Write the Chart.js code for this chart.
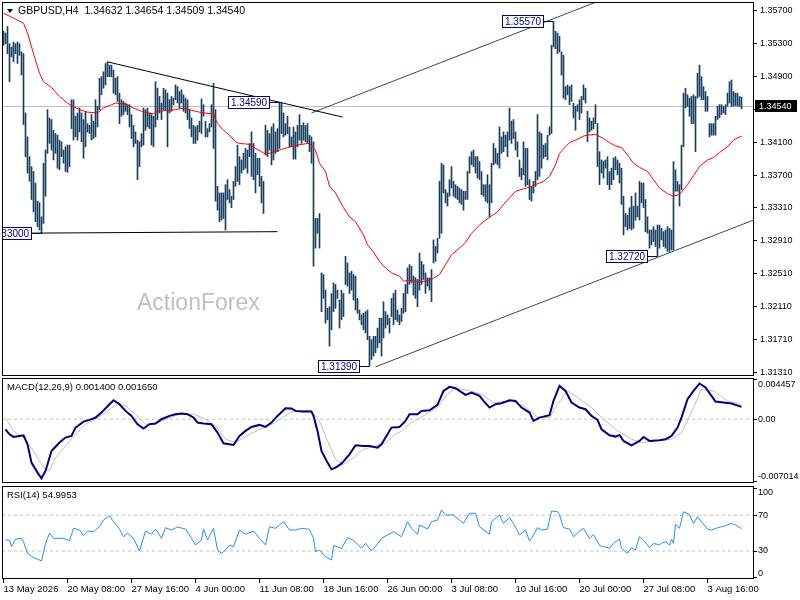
<!DOCTYPE html>
<html>
<head>
<meta charset="utf-8">
<script src="https://cdn.jsdelivr.net/npm/chart.js@4.4.1/dist/chart.umd.min.js"></script>
<style>
  html, body { margin: 0; padding: 0; background: #fff; }
  #wrap { position: relative; width: 800px; height: 600px; overflow: hidden; }
  canvas { position: absolute; left: 0; }
</style>
</head>
<body>
<div id="wrap">
  <canvas id="mainChart" width="800" height="380" style="top:0px"></canvas>
  <canvas id="macdChart" width="800" height="118" style="top:372px"></canvas>
  <canvas id="rsiChart" width="800" height="120" style="top:480px"></canvas>
</div>
<script>
// GBPUSD H4 bars, oldest first (high / low per bar)
const highs = [
  1.3545,1.3543,1.3551,1.3530,1.3526,1.3532,1.3530,1.3532,1.3530,1.3520,
  1.3518,1.3446,1.3417,1.3393,1.3381,1.3375,1.3361,1.3339,1.3337,1.3320,
  1.3385,1.3401,1.3450,1.3440,1.3438,1.3425,1.3421,1.3419,1.3413,1.3411,
  1.3401,1.3405,1.3407,1.3407,1.3462,1.3462,1.3442,1.3446,1.3452,1.3446,
  1.3438,1.3448,1.3433,1.3431,1.3444,1.3436,1.3462,1.3454,1.3488,1.3490,
  1.3496,1.3506,1.3508,1.3504,1.3504,1.3498,1.3488,1.3490,1.3470,1.3462,
  1.3460,1.3458,
  1.3456,1.3456,1.3444,1.3431,1.3423,1.3413,1.3411,1.3421,1.3452,1.3450,
  1.3452,1.3446,1.3444,1.3442,1.3484,1.3476,1.3466,1.3458,1.3476,1.3474,
  1.3470,1.3462,1.3466,1.3464,1.3480,1.3478,1.3472,1.3474,1.3468,1.3464,
  1.3462,1.3450,1.3440,1.3431,1.3429,1.3431,1.3436,1.3463,1.3456,1.3436,
  1.3427,1.3433,1.3456,1.3482,1.3450,1.3357,1.3349,1.3349,1.3349,1.3359,
  1.3365,1.3353,1.3345,1.3363,1.3381,1.3407,1.3393,1.3389,1.3397,1.3403,
  1.3401,1.3409,
  1.3423,1.3409,1.3397,1.3391,1.3391,1.3369,1.3363,1.3431,1.3425,1.3421,
  1.3429,1.3433,1.3423,1.3427,1.3459,1.3458,1.3446,1.3433,1.3442,1.3429,
  1.3417,1.3429,1.3423,1.3431,1.3444,1.3431,1.3434,1.3431,1.3433,1.3419,
  1.3417,1.3411,1.3318,1.3318,1.3324,1.3252,1.3250,1.3231,1.3209,1.3211,
  1.3227,1.3240,1.3238,1.3231,1.3219,1.3231,1.3227,1.3272,1.3264,1.3252,
  1.3254,1.3250,1.3248,1.3221,1.3207,1.3201,1.3203,1.3205,1.3207,1.3175,
  1.3171,1.3175,
  1.3175,1.3185,1.3197,1.3197,1.3217,1.3205,1.3201,1.3197,1.3221,1.3227,
  1.3231,1.3207,1.3201,1.3209,1.3227,1.3238,1.3258,1.3262,1.3260,1.3248,
  1.3246,1.3244,1.3276,1.3266,1.3262,1.3252,1.3246,1.3246,1.3256,1.3292,
  1.3284,1.3294,1.3363,1.3385,1.3383,1.3353,1.3349,1.3365,1.3381,1.3363,
  1.3359,1.3357,1.3355,1.3353,1.3351,1.3351,1.3375,1.3393,1.3399,1.3401,
  1.3393,1.3393,1.3387,1.3375,1.3359,1.3359,1.3371,1.3359,1.3385,1.3409,
  1.3403,1.3397,
  1.3429,1.3417,1.3423,1.3419,1.3423,1.3452,1.3436,1.3438,1.3423,1.3411,
  1.3389,1.3379,1.3411,1.3403,1.3403,1.3365,1.3357,1.3363,1.3375,1.3444,
  1.3423,1.3421,1.3407,1.3409,1.3419,1.3429,1.3528,1.3557,1.3545,1.3543,
  1.3539,1.3520,1.3516,1.3478,1.3480,1.3478,1.3480,1.3458,1.3454,1.3456,
  1.3462,1.3466,1.3480,1.3476,1.3448,1.3440,1.3436,1.3440,1.3456,1.3433,
  1.3399,1.3389,1.3387,1.3389,1.3393,1.3375,1.3379,1.3391,1.3393,1.3389,
  1.3385,1.3379,
  1.3345,1.3324,1.3322,1.3331,1.3345,1.3333,1.3349,1.3333,1.3363,1.3361,
  1.3361,1.3341,1.3320,1.3304,1.3304,1.3308,1.3304,1.3310,1.3310,1.3306,
  1.3302,1.3304,1.3308,1.3306,1.3304,1.3387,1.3377,1.3363,1.3359,1.3407,
  1.3470,1.3476,1.3468,1.3464,1.3466,1.3468,1.3466,1.3494,1.3504,1.3490,
  1.3478,1.3472,1.3466,1.3433,1.3433,1.3433,1.3442,1.3454,1.3456,1.3456,
  1.3454,1.3456,1.3470,1.3484,1.3486,1.3472,1.3470,1.3470,1.3466,1.3465
];
const lows = [
  1.3528,1.3530,1.3518,1.3484,1.3514,1.3508,1.3518,1.3506,1.3516,1.3492,
  1.3432,1.3393,1.3373,1.3363,1.3341,1.3326,1.3314,1.3308,1.3304,1.3300,
  1.3312,1.3345,1.3397,1.3409,1.3401,1.3389,1.3397,1.3379,1.3377,1.3393,
  1.3385,1.3375,1.3374,1.3381,1.3427,1.3413,1.3417,1.3413,1.3423,1.3411,
  1.3391,1.3405,1.3423,1.3421,1.3413,1.3415,1.3417,1.3429,1.3450,1.3468,
  1.3476,1.3480,1.3490,1.3490,1.3490,1.3470,1.3468,1.3460,1.3433,1.3442,
  1.3444,1.3448,
  1.3444,1.3429,1.3415,1.3405,1.3409,1.3365,1.3381,1.3405,1.3407,1.3425,
  1.3429,1.3427,1.3407,1.3405,1.3429,1.3438,1.3446,1.3438,1.3450,1.3450,
  1.3405,1.3446,1.3448,1.3456,1.3462,1.3458,1.3452,1.3458,1.3448,1.3446,
  1.3438,1.3427,1.3417,1.3409,1.3409,1.3413,1.3423,1.3421,1.3442,1.3417,
  1.3417,1.3423,1.3429,1.3403,1.3339,1.3328,1.3314,1.3316,1.3318,1.3304,
  1.3341,1.3337,1.3331,1.3341,1.3357,1.3363,1.3359,1.3373,1.3377,1.3379,
  1.3373,1.3393,
  1.3369,1.3365,1.3349,1.3371,1.3357,1.3337,1.3324,1.3395,1.3393,1.3401,
  1.3383,1.3389,1.3397,1.3399,1.3403,1.3421,1.3417,1.3419,1.3421,1.3405,
  1.3405,1.3390,1.3390,1.3405,1.3413,1.3409,1.3413,1.3411,1.3409,1.3399,
  1.3385,1.3260,1.3282,1.3300,1.3282,1.3205,1.3221,1.3191,1.3195,1.3163,
  1.3183,1.3205,1.3209,1.3221,1.3185,1.3195,1.3199,1.3238,1.3236,1.3227,
  1.3231,1.3219,1.3207,1.3203,1.3195,1.3189,1.3183,1.3179,1.3171,1.3139,
  1.3147,1.3151,
  1.3155,1.3161,1.3167,1.3151,1.3173,1.3185,1.3189,1.3179,1.3199,1.3189,
  1.3195,1.3193,1.3189,1.3193,1.3203,1.3205,1.3227,1.3238,1.3240,1.3225,
  1.3221,1.3211,1.3231,1.3238,1.3244,1.3227,1.3236,1.3231,1.3217,1.3264,
  1.3266,1.3276,1.3294,1.3300,1.3349,1.3337,1.3333,1.3345,1.3355,1.3345,
  1.3343,1.3341,1.3337,1.3335,1.3328,1.3341,1.3341,1.3373,1.3383,1.3381,
  1.3373,1.3367,1.3365,1.3347,1.3345,1.3339,1.3337,1.3320,1.3337,1.3383,
  1.3385,1.3383,
  1.3379,1.3397,1.3399,1.3405,1.3393,1.3413,1.3409,1.3415,1.3401,1.3393,
  1.3369,1.3365,1.3371,1.3357,1.3359,1.3341,1.3339,1.3349,1.3357,1.3365,
  1.3369,1.3379,1.3391,1.3393,1.3389,1.3419,1.3421,1.3526,1.3524,1.3518,
  1.3520,1.3492,1.3464,1.3462,1.3468,1.3456,1.3460,1.3440,1.3425,1.3448,
  1.3438,1.3446,1.3462,1.3458,1.3411,1.3423,1.3425,1.3427,1.3433,1.3381,
  1.3359,1.3373,1.3367,1.3379,1.3359,1.3353,1.3359,1.3365,1.3377,1.3371,
  1.3361,1.3335,
  1.3298,1.3308,1.3304,1.3306,1.3304,1.3306,1.3316,1.3320,1.3316,1.3337,
  1.3331,1.3302,1.3300,1.3282,1.3286,1.3290,1.3284,1.3272,1.3282,1.3292,
  1.3284,1.3282,1.3278,1.3278,1.3280,1.3280,1.3351,1.3351,1.3333,1.3353,
  1.3405,1.3452,1.3454,1.3442,1.3433,1.3433,1.3399,1.3464,1.3466,1.3462,
  1.3462,1.3448,1.3448,1.3417,1.3419,1.3419,1.3419,1.3438,1.3440,1.3444,
  1.3446,1.3444,1.3454,1.3458,1.3454,1.3454,1.3455,1.3454,1.3454,1.3451
];

// moving average (red), read at sample bars
const maBars = [0,5,10,12,15,18,20,24,28,32,34,38,42,47,50,54,56,61,65,69,72,75,77,82,86,90,93,96,100,105,
  107,110,113,116,118,123,126,129,131,134,138,142,147,152,153,156,158,161,163,166,170,173,176,180,182,185,
  188,191,194,198,200,203,205,208,211,214,218,221,224,228,231,234,238,241,244,247,250,253,256,260,263,266,
  270,273,276,278,281,283,286,290,292,296,300,303,306,309,312,315,318,322,325,328,332,335,338,342,345,348,
  352,355,358,362,365,369];
const maValues = [1.3567,1.3561,1.3555,1.3543,1.3518,1.3494,1.3484,1.3477,1.3466,1.3458,1.3455,1.3450,1.3447,
  1.3446,1.3452,1.3456,1.3458,1.3457,1.3452,1.3448,1.3446,1.3445,1.3448,1.3449,1.3450,1.3452,1.3450,1.3448,
  1.3446,1.3445,1.3433,1.3425,1.3419,1.3411,1.3409,1.3408,1.3403,1.3399,1.3396,1.3398,1.3401,1.3404,1.3407,
  1.3409,1.3409,1.3401,1.3385,1.3375,1.3357,1.3349,1.3331,1.3320,1.3314,1.3298,1.3286,1.3277,1.3266,1.3258,
  1.3252,1.3248,1.3242,1.3243,1.3242,1.3241,1.3242,1.3244,1.3250,1.3262,1.3274,1.3282,1.3289,1.3300,1.3310,
  1.3316,1.3321,1.3326,1.3335,1.3343,1.3351,1.3354,1.3356,1.3359,1.3363,1.3369,1.3383,1.3397,1.3405,1.3410,
  1.3413,1.3418,1.3419,1.3420,1.3415,1.3410,1.3406,1.3404,1.3395,1.3385,1.3380,1.3375,1.3365,1.3355,1.3348,
  1.3345,1.3347,1.3359,1.3370,1.3381,1.3389,1.3392,1.3398,1.3405,1.3413,1.3418];

// hand drawn lines: [start bar, end bar] and [start price, end price]
const resistBars = [52, 169.5];
const resistPrices = [1.3508, 1.3441];
const supportBars = [-1, 137];
const supportPrices = [1.3300, 1.3302];
const channelTopBars = [154, 300];
const channelTopPrices = [1.3446, 1.3584];
const channelLowBars = [186, 376];
const channelLowPrices = [1.3138, 1.3317];

// marked turning points
const markBars = [19, 138, 183, 275, 327];
const markPrices = [1.33000, 1.34590, 1.31390, 1.35570, 1.32720];

const lastPrice = 1.34540;
const priceTicks = [1.357, 1.353, 1.349, 1.345, 1.341, 1.337, 1.3331, 1.3291, 1.3251, 1.3211, 1.3171, 1.3131];

// MACD(12,26,9) main and signal
const macdBars = [1,3,5,8,10,12,14,17,19,21,24,28,31,34,36,40,43,46,49,53,55,58,61,64,67,70,73,76,79,83,86,89,
  92,95,97,100,104,107,110,115,118,121,124,128,131,134,137,141,144,146,149,154,155,157,159,162,164,166,169,173,
  176,180,183,187,189,194,198,201,203,207,209,213,217,220,223,226,228,231,234,238,240,243,246,249,253,256,259,
  263,265,268,273,275,278,281,284,288,291,294,297,299,303,306,308,310,314,318,320,323,328,331,334,337,339,342,
  345,348,351,354,356,360,364,369];
const macdValues = [-0.001137,-0.001706,-0.002009,-0.001895,-0.001819,-0.002843,-0.004927,-0.006064,-0.006708,
  -0.005875,-0.003601,-0.002653,-0.002085,-0.001895,-0.000948,-0.000265,-0.000076,0.000190,0.000758,0.001706,
  0.002160,0.001706,0.000948,0.000379,-0.000569,-0.001061,-0.000569,-0.000493,0.000000,0.000379,0.000569,0.000644,
  0.000569,0.000190,-0.000379,-0.000493,-0.000569,-0.001516,-0.002729,-0.002918,-0.001895,-0.001327,-0.000872,
  -0.000644,-0.000872,-0.000379,0.000379,0.001251,0.001213,0.000948,0.000872,0.000872,0.000379,-0.001327,
  -0.003601,-0.004927,-0.005685,-0.005496,-0.005041,-0.003980,-0.002956,-0.003032,-0.003032,-0.003222,-0.002843,
  -0.000948,-0.000872,-0.000190,0.000569,0.000569,0.000948,0.001023,0.001630,0.003222,0.003676,0.003525,0.003222,
  0.002767,0.003032,0.002653,0.002085,0.001327,0.001706,0.001819,0.002160,0.002085,0.001327,0.000758,-0.000190,
  0.000190,0.000455,0.002085,0.003790,0.003222,0.001895,0.001327,0.001137,0.000379,-0.000076,-0.001137,-0.001819,
  -0.001971,-0.001781,-0.002464,-0.002956,-0.002464,-0.002009,-0.002464,-0.002388,-0.002274,-0.001895,-0.000948,
  0.000190,0.002274,0.003222,0.004055,0.003601,0.002653,0.002009,0.001895,0.001781,0.001400];
const signalBars = [1,5,10,15,20,23,26,31,36,41,46,51,57,61,66,71,76,81,88,95,100,106,111,116,123,130,135,140,
  145,153,158,162,166,170,175,180,186,191,196,199,204,210,217,222,226,232,239,245,254,260,267,273,277,282,287,
  294,300,307,314,319,325,334,339,342,345,349,355,362,369];
const signalValues = [0.000190,-0.001327,-0.002085,-0.003601,-0.005496,-0.005875,-0.004359,-0.003032,-0.001706,
  -0.000569,0.000000,0.000758,0.001781,0.001516,0.000569,-0.000569,-0.000569,0.000000,0.000569,0.000569,0.000114,
  -0.000758,-0.002274,-0.002653,-0.001706,-0.000948,-0.000493,0.000265,0.000948,0.001023,-0.000190,-0.002464,
  -0.004548,-0.005117,-0.004359,-0.003411,-0.003032,-0.002653,-0.001706,-0.001327,-0.000379,0.000379,0.001327,
  0.002843,0.003525,0.003297,0.002843,0.001895,0.002085,0.001516,0.000265,0.000190,0.001706,0.003222,0.002464,
  0.001327,0.000000,-0.001327,-0.002274,-0.002653,-0.002464,-0.002274,-0.001516,-0.000190,0.001327,0.003411,
  0.003222,0.002085,0.001650];
const macdTicks = [0.004457, 0, -0.007014];
const macdTickLabels = ['0.004457', '0.00', '-0.007014'];

// RSI(14)
const rsiBars = [1,3,4,6,9,10,12,15,17,19,21,23,25,28,30,33,35,38,40,42,45,48,50,53,55,58,60,62,65,68,71,74,76,
  79,81,84,87,91,94,96,99,100,102,105,107,109,111,113,115,118,121,125,128,131,133,136,140,143,146,149,153,155,
  156,158,161,164,165,169,172,175,179,181,184,186,189,192,195,199,202,204,207,208,212,214,217,219,221,225,228,
  230,233,236,238,243,244,248,250,253,255,258,261,263,265,267,269,272,274,277,278,280,283,285,288,290,293,295,
  298,300,303,305,308,309,312,314,316,318,320,323,325,328,329,331,333,334,335,336,338,340,343,345,347,349,352,
  354,357,361,364,366,369];
const rsiValues = [42.3,42.3,34.9,43.4,44.2,40.4,27.4,22.5,21.0,18.8,38.6,49.8,44.2,44.2,44.2,41.6,55.4,53.5,47.2,
  52.4,51.6,57.2,64.7,69.6,62.8,54.6,46.0,49.8,44.2,30.0,52.4,48.7,54.6,44.2,56.1,53.5,56.9,54.6,44.2,36.7,42.3,
  54.6,42.3,55.4,31.1,27.4,31.1,36.7,34.9,53.5,48.7,52.4,44.2,36.7,57.2,55.4,62.8,53.5,53.5,55.4,54.3,44.2,29.3,
  31.1,23.7,19.9,36.0,33.0,44.9,42.3,33.0,38.6,30.0,34.9,44.2,47.9,51.6,46.0,62.8,55.4,48.7,59.1,54.6,62.8,64.7,
  75.9,70.3,70.3,64.7,61.0,72.2,72.2,57.2,48.7,62.8,70.3,61.0,67.3,61.0,47.9,53.5,41.2,47.9,56.1,53.5,54.6,74.8,
  74.0,70.3,56.1,54.6,46.0,52.4,55.4,44.2,48.7,36.0,34.9,33.0,38.6,43.4,33.0,27.4,33.7,31.1,46.0,42.3,33.7,38.6,
  36.7,38.6,40.4,36.7,43.4,38.6,59.9,55.4,74.0,71.1,61.0,68.4,62.8,54.6,53.5,56.1,58.4,61.0,59.1,55.0];
const rsiTicks = [100, 70, 30, 0];
const rsiLevels = [70, 30];

// time axis
const timeTickBars = [0, 32, 64, 96, 128, 160, 192, 224, 256, 288, 320, 352];
const timeLabels = ['13 May 2026', '20 May 08:00', '27 May 16:00', '4 Jun 00:00', '11 Jun 08:00', '18 Jun 16:00',
  '26 Jun 00:00', '3 Jul 08:00', '10 Jul 16:00', '20 Jul 00:00', '27 Jul 08:00', '3 Aug 16:00'];

const X_MIN = -0.75;   // 2 px per bar over the 752 px plot
const X_MAX = 375.25;
const FAMILY = '"Liberation Sans", Arial, sans-serif';
const AXIS_FONT = '9px ' + FAMILY;
const BAR_COLOR = '#183f5f';
const NAVY = '#000080';

// // // // // //
// HELPERS
// // // // // //

function points(xs, ys) {
    return xs.map((x, k) => ({ x: x, y: ys[k] }));
}

function lineSet(xs, ys, color, width) {
    return {
        type: 'line',
        data: points(xs, ys),
        borderColor: color,
        borderWidth: width || 1,
        pointRadius: 0,
        tension: 0
    };
}

function levelSet(value) {
    return {
        type: 'line',
        data: [{ x: X_MIN, y: value }, { x: X_MAX, y: value }],
        borderColor: '#c0c0c0',
        borderWidth: 1,
        borderDash: [3, 3],
        pointRadius: 0
    };
}

function hiddenX() {
    return { type: 'linear', min: X_MIN, max: X_MAX, offset: false, display: false };
}

function fixRightAxis(scale) {
    scale.width = 46;
    // let edge labels hang over the panel edges, like the terminal does
    scale.paddingTop = 0;
    scale.paddingBottom = 0;
}

function sideAxis(min, max, tickValues) {
    return {
        position: 'right',
        min: min,
        max: max,
        afterBuildTicks: (axis) => { axis.ticks = tickValues.map(v => ({ value: v })); },
        afterFit: fixRightAxis,
        ticks: { display: false },
        grid: { drawOnChartArea: false, drawTicks: true, tickLength: 3, color: '#000' },
        border: { display: false }
    };
}

const framePlugin = {
    id: 'panelFrame',
    afterDraw(chart) {
        const { ctx, chartArea: a } = chart;
        ctx.save();
        ctx.strokeStyle = '#000';
        ctx.lineWidth = 1;
        ctx.strokeRect(a.left + 0.5, a.top + 0.5, a.right - a.left - 1, a.bottom - a.top - 1);
        ctx.restore();
    }
};

function drawSideLabels(chart, values, texts) {
    const { ctx, chartArea: a } = chart;
    const y = chart.scales.y;
    ctx.save();
    ctx.font = AXIS_FONT;
    ctx.fillStyle = '#000';
    ctx.textAlign = 'left';
    values.forEach((v, k) => {
        if (k === 0) ctx.textBaseline = 'top';
        else if (k === values.length - 1) ctx.textBaseline = 'bottom';
        else ctx.textBaseline = 'middle';
        ctx.fillText(texts[k], a.right + 4, y.getPixelForValue(v));
    });
    ctx.restore();
}

function drawCaption(chart, text) {
    const { ctx, chartArea: a } = chart;
    ctx.save();
    ctx.font = '9.5px ' + FAMILY;
    ctx.fillStyle = '#000';
    ctx.textBaseline = 'middle';
    ctx.fillText(text, a.left + 5, a.top + 9.5);
    ctx.restore();
}

// // // // // //
// PRICE PANEL
// // // // // //

const pricePlugin = {
    id: 'pricePanel',
    beforeDatasetsDraw(chart) {
        const { ctx, chartArea: a } = chart;
        const y = chart.scales.y;
        ctx.save();
        // watermark
        ctx.font = '23px ' + FAMILY;
        ctx.fillStyle = '#bfbfbf';
        ctx.textBaseline = 'alphabetic';
        ctx.fillText('ActionForex', 137, 310);
        // last price line
        const py = Math.round(y.getPixelForValue(lastPrice)) + 0.5;
        ctx.strokeStyle = '#c0c0c0';
        ctx.lineWidth = 1;
        ctx.beginPath();
        ctx.moveTo(a.left, py);
        ctx.lineTo(a.right, py);
        ctx.stroke();
        ctx.restore();
    },
    afterDatasetsDraw(chart) {
        const { ctx, chartArea: a } = chart;
        const x = chart.scales.x;
        const y = chart.scales.y;
        ctx.save();
        ctx.beginPath();
        ctx.rect(a.left + 1, a.top, a.right - a.left, a.bottom - a.top);
        ctx.clip();
        ctx.font = '10px ' + FAMILY;
        ctx.lineWidth = 1;
        markBars.forEach((b, k) => {
            const bx = x.getPixelForValue(b);
            const by = Math.round(y.getPixelForValue(markPrices[k])) + 0.5;
            const text = markPrices[k].toFixed(5);
            const w = Math.round(ctx.measureText(text).width) + 6;
            const right = Math.round(bx) - 10;
            ctx.fillStyle = '#fff';
            ctx.fillRect(right - w, by - 6, w, 12);
            ctx.strokeStyle = NAVY;
            ctx.strokeRect(right - w + 0.5, by - 6, w - 1, 12);
            ctx.beginPath();
            ctx.moveTo(right, by);
            ctx.lineTo(bx, by);
            ctx.stroke();
            ctx.fillStyle = NAVY;
            ctx.textBaseline = 'middle';
            ctx.fillText(text, right - w + 3, by + 0.5);
        });
        ctx.restore();
    },
    afterDraw(chart) {
        const { ctx, chartArea: a } = chart;
        const y = chart.scales.y;
        ctx.save();
        // title strip hides the frame top
        ctx.fillStyle = '#fff';
        ctx.fillRect(a.left + 1, a.top - 1, 217, 3);
        ctx.fillStyle = '#000';
        ctx.beginPath();
        ctx.moveTo(7, 9);
        ctx.lineTo(13, 9);
        ctx.lineTo(10, 13);
        ctx.closePath();
        ctx.fill();
        ctx.font = '10.5px ' + FAMILY;
        ctx.textBaseline = 'middle';
        ctx.fillText('GBPUSD,H4  1.34632 1.34654 1.34509 1.34540', 18, 11);
        // last price box on the axis
        const py = Math.round(y.getPixelForValue(lastPrice));
        ctx.fillStyle = '#000';
        ctx.fillRect(a.right + 1, py - 6, 42, 12);
        ctx.fillStyle = '#fff';
        ctx.font = AXIS_FONT;
        ctx.fillText(lastPrice.toFixed(5), a.right + 5, py + 0.5);
        ctx.restore();
    }
};

new Chart(document.getElementById('mainChart').getContext('2d'), {
    type: 'bar',
    data: {
        datasets: [
            lineSet(resistBars, resistPrices, '#000000'),
            lineSet(supportBars, supportPrices, '#000000'),
            lineSet(channelTopBars, channelTopPrices, '#2f4f4f'),
            lineSet(channelLowBars, channelLowPrices, '#2f4f4f'),
            lineSet(maBars, maValues, '#ff0000'),
            {
                type: 'bar',
                data: highs.map((h, i) => ({ x: i, y: [lows[i], h] })),
                backgroundColor: BAR_COLOR,
                borderWidth: 0,
                barThickness: 1,
                grouped: false
            }
        ]
    },
    options: {
        responsive: false,
        animation: false,
        devicePixelRatio: 1,
        layout: { padding: { left: 2, top: 2, right: 0, bottom: 4 } },
        scales: {
            x: hiddenX(),
            y: {
                position: 'right',
                min: 1.31269,
                max: 1.35806,
                afterBuildTicks: (axis) => { axis.ticks = priceTicks.map(v => ({ value: v })); },
                afterFit: fixRightAxis,
                ticks: {
                    font: { family: FAMILY, size: 9 },
                    color: '#000',
                    padding: 3,
                    callback: (v) => Number(v).toFixed(5)
                },
                grid: { drawOnChartArea: false, drawTicks: true, tickLength: 3, color: '#000' },
                border: { display: false }
            }
        },
        plugins: { legend: { display: false }, tooltip: { enabled: false } }
    },
    plugins: [pricePlugin, framePlugin]
});

// // // // // //
// MACD PANEL
// // // // // //

new Chart(document.getElementById('macdChart').getContext('2d'), {
    type: 'line',
    data: {
        datasets: [
            lineSet(macdBars, macdValues, NAVY, 2),
            lineSet(signalBars, signalValues, '#c0c0c0', 1),
            levelSet(0)
        ]
    },
    options: {
        responsive: false,
        animation: false,
        devicePixelRatio: 1,
        layout: { padding: { left: 2, top: 6, right: 0, bottom: 7 } },
        scales: {
            x: hiddenX(),
            y: sideAxis(-0.007241, 0.004684, macdTicks)
        },
        plugins: { legend: { display: false }, tooltip: { enabled: false } }
    },
    plugins: [framePlugin, {
        id: 'macdText',
        afterDraw(chart) {
            drawSideLabels(chart, macdTicks, macdTickLabels);
            drawCaption(chart, 'MACD(12,26,9) 0.001400 0.001650');
        }
    }]
});

// // // // // //
// RSI PANEL
// // // // // //

new Chart(document.getElementById('rsiChart').getContext('2d'), {
    type: 'line',
    data: {
        datasets: [
            lineSet(rsiBars, rsiValues, '#1e90ff', 1),
            levelSet(rsiLevels[0]),
            levelSet(rsiLevels[1])
        ]
    },
    options: {
        responsive: false,
        animation: false,
        devicePixelRatio: 1,
        layout: { padding: { left: 2, top: 6, right: 0, bottom: 0 } },
        scales: {
            x: {
                type: 'linear',
                min: X_MIN,
                max: X_MAX,
                offset: false,
                afterBuildTicks: (axis) => { axis.ticks = timeTickBars.map(v => ({ value: v })); },
                afterFit: (scale) => { scale.height = 21; scale.paddingLeft = 0; scale.paddingRight = 0; },
                ticks: {
                    font: { family: FAMILY, size: 9.5 },
                    color: '#000',
                    align: 'start',
                    maxRotation: 0,
                    autoSkip: false,
                    padding: 1,
                    callback: (v, i) => timeLabels[i]
                },
                grid: { drawOnChartArea: false, drawTicks: true, tickLength: 4, color: '#000' },
                border: { display: false }
            },
            y: sideAxis(-1.34, 102.8, rsiTicks)
        },
        plugins: { legend: { display: false }, tooltip: { enabled: false } }
    },
    plugins: [framePlugin, {
        id: 'rsiText',
        afterDraw(chart) {
            drawSideLabels(chart, rsiTicks, rsiTicks.map(String));
            drawCaption(chart, 'RSI(14) 54.9953');
        }
    }]
});
</script>
</body>
</html>
